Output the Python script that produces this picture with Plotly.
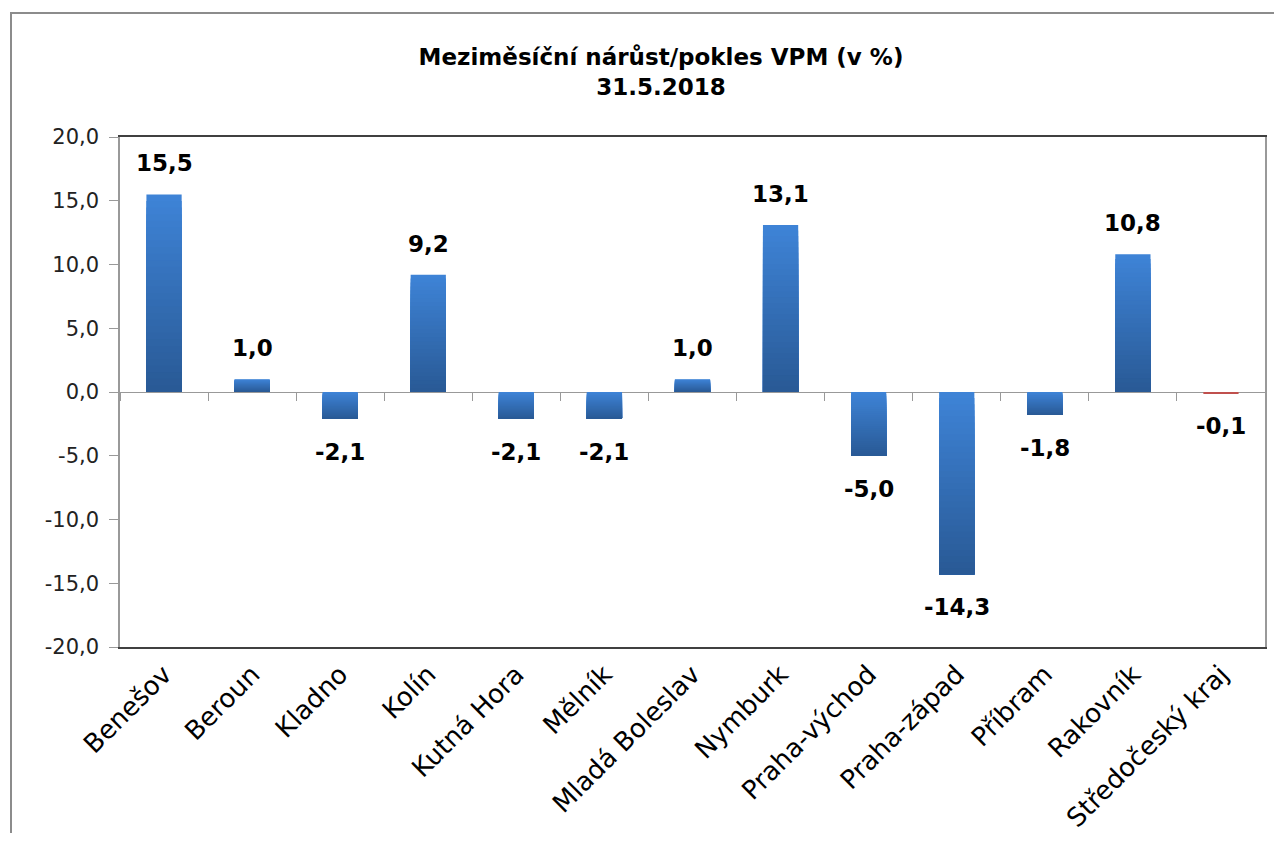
import plotly.graph_objects as go

categories = ["Benešov", "Beroun", "Kladno", "Kolín", "Kutná Hora", "Mělník",
              "Mladá Boleslav", "Nymburk", "Praha-východ", "Praha-západ",
              "Příbram", "Rakovník", "Středočeský kraj"]
values = [15.5, 1.0, -2.1, 9.2, -2.1, -2.1, 1.0, 13.1, -5.0, -14.3, -1.8, 10.8, -0.1]
highlight = ["Středočeský kraj"]

title_line1 = "Meziměsíční nárůst/pokles VPM (v %)"
title_line2 = "31.5.2018"
y_ticks = [-20, -15, -10, -5, 0, 5, 10, 15, 20]
y_ticktext = [f"{v:.1f}".replace(".", ",") for v in y_ticks]

FONT = "DejaVu Sans"
OFF = 8  # page body margin
W, H = 1282 - 2 * OFF, 841 - 2 * OFF
ML = 120 - OFF
MT = 137 - OFF
MR = W - (1265 - OFF)
MB = H - (647 - OFF)

LIGHT = (62, 131, 214)
DARK = (41, 90, 150)
N = 30

def mix(a, b, t):
    return "rgb(%d,%d,%d)" % tuple(round(a[i] + (b[i] - a[i]) * t) for i in range(3))

fig = go.Figure()

blue_cats = [c for c in categories if c not in highlight]
blue_vals = [v for c, v in zip(categories, values) if c not in highlight]
bottoms = [min(v, 0) for v in blue_vals]
lens = [abs(v) for v in blue_vals]

# vertical gradient: light at the top of each bar, dark at the bottom
for k in range(N):
    hs = [l * (1 - k / N) for l in lens]
    fig.add_trace(go.Bar(
        x=blue_cats, y=hs, base=bottoms, width=0.4,
        marker=dict(color=mix(LIGHT, DARK, k / (N - 1)), line=dict(width=0)),
        showlegend=False, hoverinfo="skip"))

red_vals = [v for c, v in zip(categories, values) if c in highlight]
fig.add_trace(go.Bar(x=highlight, y=red_vals, width=0.4,
                     marker=dict(color="#c0504d", line=dict(width=0)),
                     showlegend=False))

# invisible trace to carry the zero-line axis with category ticks
fig.add_trace(go.Scatter(x=categories, y=[0] * len(categories), xaxis="x2",
                         mode="markers", marker=dict(opacity=0),
                         showlegend=False, hoverinfo="skip"))

for c, v in zip(categories, values):
    fig.add_annotation(x=c, y=v, text="<b>" + f"{v:.1f}".replace(".", ",") + "</b>",
                       showarrow=False, yshift=31 if v >= 0 else -33,
                       font=dict(family=FONT, size=23, color="#000"),
                       xref="x", yref="y")

# outer chart frame
px_x = lambda p: (p - OFF - ML) / (W - ML - MR)
px_y = lambda p: 1 - (p - OFF - MT) / (H - MT - MB)
fig.add_shape(type="rect", xref="paper", yref="paper",
              x0=px_x(11), x1=px_x(1400), y0=px_y(1000), y1=px_y(13),
              line=dict(color="#8c8c8c", width=2), layer="below")

fig.update_layout(
    width=W, height=H,
    margin=dict(l=ML, r=MR, t=MT, b=MB, autoexpand=False),
    paper_bgcolor="white", plot_bgcolor="white",
    barmode="overlay", bargap=0.6,
    separators=", ",
    font=dict(family=FONT, color="#000"),
    title=dict(text=f"<b>{title_line1}<br>{title_line2}</b>",
               x=(661 - OFF) / W, xref="container", xanchor="center",
               y=1 - (65 - OFF) / H, yref="container", yanchor="middle",
               font=dict(family=FONT, size=23, color="#000")),
    xaxis=dict(type="category", categoryorder="array", categoryarray=categories,
               range=[-0.5, len(categories) - 0.5], automargin=False,
               tickangle=-45, ticks="", showgrid=False,
               showline=True, linecolor="#404040", linewidth=1.5, mirror=True,
               tickfont=dict(family=FONT, size=26, color="#000")),
    xaxis2=dict(type="category", categoryorder="array", categoryarray=categories,
                range=[-0.5, len(categories) - 0.5], automargin=False,
                overlaying="x", anchor="free", position=0.5,
                showticklabels=False, ticks="outside", tickson="boundaries",
                ticklen=8, tickcolor="#999", showline=True, linecolor="#999",
                linewidth=1, showgrid=False, layer="below traces"),
    yaxis=dict(range=[-20, 20], tickvals=y_ticks, ticktext=y_ticktext,
               automargin=False,
               ticks="outside", ticklen=9, tickcolor="#999",
               ticklabelstandoff=6,
               showgrid=False, zeroline=False,
               showline=True, linecolor="#999", linewidth=1.5, mirror=True,
               tickfont=dict(family=FONT, size=21, color="#222")),
)

fig.write_html("out.html")
